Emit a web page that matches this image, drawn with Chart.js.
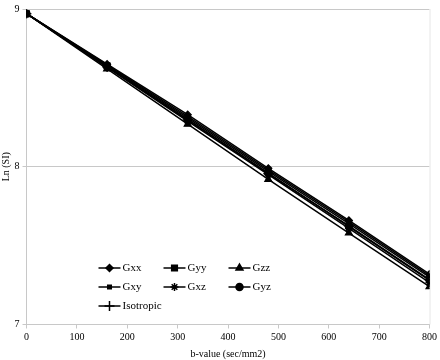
<!DOCTYPE html>
<html>
<head>
<meta charset="utf-8">
<script src="https://cdn.jsdelivr.net/npm/chart.js@4/dist/chart.umd.min.js"></script>
<style>
  html, body { margin: 0; padding: 0; background: #fff; }
  #wrap { width: 440px; height: 360px; }
</style>
</head>
<body>
<div id="wrap"><canvas id="c" width="440" height="360"></canvas></div>
<script>
// Ln(SI) vs b-value for each diffusion gradient direction.
const BVALUES = [0, 160, 320, 480, 640, 800];
const X_TICKS = [0, 100, 200, 300, 400, 500, 600, 700, 800];
const Y_TICKS = [7, 8, 9];

const GXX = [8.97, 8.650, 8.330, 7.990, 7.660, 7.320];
const GYY = [8.97, 8.640, 8.310, 7.970, 7.640, 7.300];
const GZZ = [8.97, 8.620, 8.270, 7.920, 7.580, 7.240];
const GXY = [8.97, 8.645, 8.320, 7.980, 7.650, 7.310];
const GXZ = [8.97, 8.630, 8.290, 7.950, 7.610, 7.265];
const GYZ = [8.97, 8.635, 8.300, 7.960, 7.620, 7.280];
const ISO = [8.97, 8.633, 8.297, 7.957, 7.625, 7.285];

const SERIES = [
  { label: 'Gxx', data: GXX, style: 'rectRot', r: 3.5 },
  { label: 'Gyy', data: GYY, style: 'rect', r: 4 },
  { label: 'Gzz', data: GZZ, style: 'triangle', r: 4 },
  { label: 'Gxy', data: GXY, style: 'rect', r: 2.5 },
  { label: 'Gxz', data: GXZ, style: 'star', r: 4 },
  { label: 'Gyz', data: GYZ, style: 'circle', r: 3.5 },
  { label: 'Isotropic', data: ISO, style: 'cross', r: 5 },
];

const FONT = 'Liberation Serif';
const GREY = '#c8c8c8';

// legend drawn inside the plot, 3 columns
const legendInside = {
  id: 'legendInside',
  afterDatasetsDraw(chart) {
    const ctx = chart.ctx;
    const a = chart.chartArea;
    const x0 = a.left + 72, y0 = a.top + 259;
    const colW = 65, rowH = 19;
    ctx.save();
    ctx.font = `11px "${FONT}"`;
    ctx.textBaseline = 'middle';
    chart.data.datasets.forEach((ds, i) => {
      const x = x0 + (i % 3) * colW;
      const y = y0 + Math.floor(i / 3) * rowH;
      ctx.strokeStyle = '#000';
      ctx.lineWidth = 1.5;
      ctx.beginPath();
      ctx.moveTo(x, y); ctx.lineTo(x + 22, y);
      ctx.stroke();
      ctx.fillStyle = '#000';
      Chart.helpers.drawPoint(ctx, {
        pointStyle: ds.pointStyle, radius: ds.pointRadius, borderWidth: 1.2, rotation: 0,
      }, x + 11, y);
      ctx.fillStyle = '#000';
      ctx.fillText(ds.label, x + 24, y);
    });
    ctx.restore();
  },
};

const rightEdge = {
  id: 'rightEdge',
  beforeDatasetsDraw(chart) {
    const { ctx, chartArea: a } = chart;
    ctx.save();
    ctx.strokeStyle = '#e6e6e6';
    ctx.lineWidth = 1;
    ctx.beginPath();
    ctx.moveTo(a.right + 0.5, a.top); ctx.lineTo(a.right + 0.5, a.bottom);
    ctx.stroke();
    ctx.restore();
  },
};

new Chart(document.getElementById('c').getContext('2d'), {
  type: 'line',
  data: {
    datasets: SERIES.map(s => ({
      label: s.label,
      data: BVALUES.map((b, i) => ({ x: b, y: s.data[i] })),
      borderColor: '#000',
      backgroundColor: '#000',
      borderWidth: 1.5,
      pointStyle: s.style,
      pointRadius: s.r,
      pointBorderWidth: 1.2,
      tension: 0,
    })),
  },
  options: {
    responsive: false,
    animation: false,
    layout: { padding: { top: 4, right: 8, left: 0, bottom: 0 } },
    plugins: { legend: { display: false }, tooltip: { enabled: false } },
    scales: {
      x: {
        type: 'linear', min: 0, max: 800,
        afterBuildTicks: s => { s.ticks = X_TICKS.map(v => ({ value: v })); },
        afterFit: s => { s.height = 35.5; },
        grid: { drawOnChartArea: false, color: GREY, tickLength: 4 },
        border: { color: GREY },
        ticks: { color: '#000', font: { family: FONT, size: 10 }, padding: 3, maxRotation: 0 },
        title: { display: true, text: 'b-value (sec/mm2)', color: '#000', font: { family: FONT, size: 10 }, padding: { top: 2, bottom: 0 } },
      },
      y: {
        min: 7, max: 9,
        afterBuildTicks: s => { s.ticks = Y_TICKS.map(v => ({ value: v })); },
        afterFit: s => { s.width = 26.5; },
        grid: { color: GREY, tickLength: 4 },
        border: { color: GREY },
        ticks: { color: '#000', font: { family: FONT, size: 10 }, padding: 3 },
        title: { display: true, text: 'Ln (SI)', color: '#000', font: { family: FONT, size: 10 }, padding: 0 },
      },
    },
  },
  plugins: [rightEdge, legendInside],
});
</script>
</body>
</html>
